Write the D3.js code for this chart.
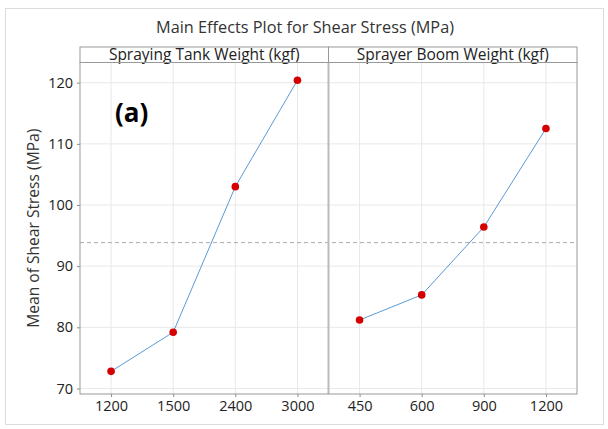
<!DOCTYPE html>
<html>
<head>
<meta charset="utf-8">
<script src="https://cdn.jsdelivr.net/npm/d3@7"></script>
<style>
  body { margin: 0; background: #fff; }
  svg { font-family: "Open Sans", "Noto Sans", sans-serif; }
</style>
</head>
<body>
<div id="chart"></div>
<script>
// factor levels and mean responses
let tankLevels = ["1200", "1500", "2400", "3000"];
let tankMeans = [72.8, 79.2, 103.0, 120.4];
let boomLevels = ["450", "600", "900", "1200"];
let boomMeans = [81.2, 85.3, 96.4, 112.5];
let yTicks = [70, 80, 90, 100, 110, 120];
let panelTitles = ["Spraying Tank Weight (kgf)", "Sprayer Boom Weight (kgf)"];

let width = 608;
let height = 429;

let svg = d3.select("#chart").append("svg")
    .attr("width", width)
    .attr("height", height);

// outer frame
svg.append("rect")
    .attr("x", 5.5).attr("y", 8.5)
    .attr("width", 598).attr("height", 416)
    .attr("fill", "none")
    .attr("stroke", "#dcdcdc");

let plotLeft = 80, plotRight = 577, stripTop = 47, plotTop = 62.5, plotBottom = 394;
let mid = (plotLeft + plotRight) / 2;

const y = d3.scaleLinear().domain([69.1, 123.3]).range([plotBottom, plotTop]);

let grandMean = d3.mean(tankMeans.concat(boomMeans));

let panels = [
    { levels: tankLevels, means: tankMeans, x0: plotLeft, x1: mid, title: panelTitles[0] },
    { levels: boomLevels, means: boomMeans, x0: mid, x1: plotRight, title: panelTitles[1] }
];

// title
svg.append("text")
    .attr("x", 305).attr("y", 33)
    .attr("text-anchor", "middle")
    .attr("font-size", 16.3)
    .attr("fill", "#333")
    .text("Main Effects Plot for Shear Stress (MPa)");

// y label
svg.append("text")
    .attr("transform", "translate(39," + ((plotTop + plotBottom) / 2) + ") rotate(-90)")
    .attr("text-anchor", "middle")
    .attr("font-size", 15.6)
    .attr("fill", "#333")
    .text("Mean of Shear Stress (MPa)");

// horizontal grid
svg.append("g")
    .selectAll("line")
    .data(yTicks)
    .enter().append("line")
    .attr("x1", plotLeft).attr("x2", plotRight)
    .attr("y1", d => y(d)).attr("y2", d => y(d))
    .attr("stroke", "#e8e8e8");

// y axis
let yAxis = svg.append("g")
    .attr("transform", "translate(" + plotLeft + ",0)")
    .call(d3.axisLeft(y).tickValues(yTicks).tickSize(3).tickPadding(4));
yAxis.select(".domain").remove();
yAxis.selectAll("line").attr("stroke", "#888");
yAxis.selectAll("text")
    .attr("font-size", 14.5)
    .attr("fill", "#222")
    .attr("font-family", "Open Sans, Noto Sans, sans-serif");

const line = d3.line();

panels.forEach(function(p) {
    const x = d3.scalePoint().domain(p.levels).range([p.x0, p.x1]).padding(0.5);

    // vertical grid
    svg.append("g")
        .selectAll("line")
        .data(p.levels)
        .enter().append("line")
        .attr("x1", d => x(d)).attr("x2", d => x(d))
        .attr("y1", plotTop).attr("y2", plotBottom)
        .attr("stroke", "#e8e8e8");

    let xAxis = svg.append("g")
        .attr("transform", "translate(0," + plotBottom + ")")
        .call(d3.axisBottom(x).tickSize(3).tickPadding(4));
    xAxis.select(".domain").remove();
    xAxis.selectAll("line").attr("stroke", "#888");
    xAxis.selectAll("text")
        .attr("font-size", 14.5)
        .attr("fill", "#222")
        .attr("font-family", "Open Sans, Noto Sans, sans-serif");

    // strip header
    svg.append("rect")
        .attr("x", p.x0).attr("y", stripTop)
        .attr("width", p.x1 - p.x0).attr("height", plotTop - stripTop)
        .attr("fill", "#fff")
        .attr("stroke", "#999");
    svg.append("text")
        .attr("x", (p.x0 + p.x1) / 2).attr("y", stripTop + 13)
        .attr("text-anchor", "middle")
        .attr("font-size", 15.5)
        .attr("fill", "#222")
        .text(p.title);

    p.x = x;
});

// mean reference line
svg.append("line")
    .attr("x1", plotLeft).attr("x2", plotRight)
    .attr("y1", y(grandMean)).attr("y2", y(grandMean))
    .attr("stroke", "#aaa")
    .attr("stroke-dasharray", "4,3");

// panel divider and frame
svg.append("line")
    .attr("x1", mid).attr("x2", mid)
    .attr("y1", plotTop).attr("y2", plotBottom)
    .attr("stroke", "#bbb")
    .attr("stroke-width", 2);
svg.append("rect")
    .attr("x", plotLeft).attr("y", plotTop)
    .attr("width", plotRight - plotLeft).attr("height", plotBottom - plotTop)
    .attr("fill", "none")
    .attr("stroke", "#999");

panels.forEach(function(p) {
    let pts = p.levels.map((l, i) => [p.x(l), y(p.means[i])]);
    svg.append("path")
        .attr("d", line(pts))
        .attr("fill", "none")
        .attr("stroke", "#5b9bd5")
        .attr("stroke-width", 1);
    svg.append("g")
        .selectAll("circle")
        .data(pts)
        .enter().append("circle")
        .attr("cx", d => d[0]).attr("cy", d => d[1])
        .attr("r", 3.8)
        .attr("fill", "#d40000");
});

// panel tag
svg.append("text")
    .attr("x", 115).attr("y", 122)
    .attr("font-size", 26)
    .attr("font-weight", "bold")
    .attr("fill", "#000")
    .text("(a)");
</script>
</body>
</html>
